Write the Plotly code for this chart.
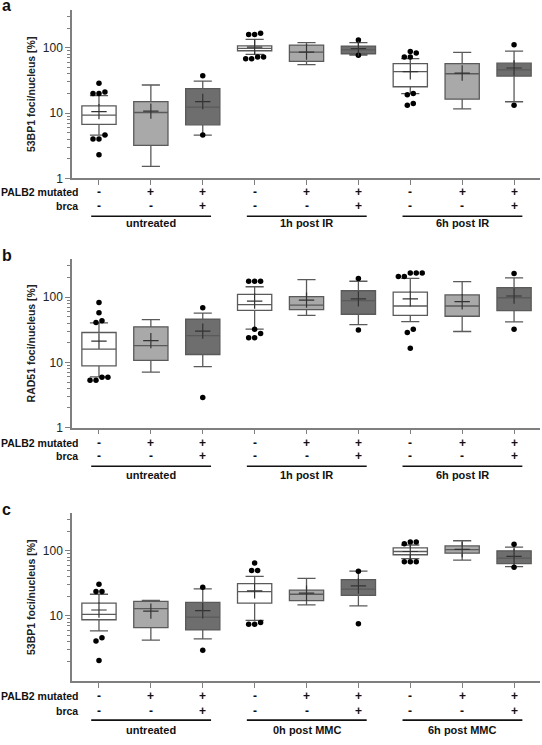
import math
import plotly.graph_objects as go

W, H = 542, 745

# ---------------- data ----------------
categories = [0, 1, 2, 3, 4, 5, 6, 7, 8]
palb2 = ["-", "+", "+", "-", "+", "+", "-", "+", "+"]
brca = ["-", "-", "+", "-", "-", "+", "-", "-", "+"]
groups_ir = ["untreated", "1h post IR", "6h post IR"]
groups_mmc = ["untreated", "0h post MMC", "6h post MMC"]

# Panel a: 53BP1 foci, IR
a_q1 = [6.7, 3.2, 6.6, 90, 62, 81, 25.3, 16.3, 36.8]
a_med = [9.3, 10.2, 12.3, 98, 86, 93, 43, 40, 45.9]
a_q3 = [12.9, 15.0, 23.6, 107, 110, 106, 57, 57, 58]
a_lo = [4.6, 1.52, 4.6, 79, 55, 77, 19.9, 11.6, 14.9]
a_hi = [18.5, 26.9, 30.9, 134, 120, 120, 68, 85, 89]
a_mean = [10.5, 10.7, 15.0, 102, 86, 97, 43, 41, 49]
a_out = [[28.5, 21, 20, 20, 4.6, 4.0, 4.0, 2.3], [], [37.2, 4.6],
         [167, 159, 159, 72, 68, 68, 72], [], [131, 77],
         [88, 83, 72, 72, 20, 19, 13.2, 14], [], [111, 13.2]]

# Panel b: RAD51 foci, IR
b_q1 = [8.85, 10.7, 13.2, 62.7, 64.2, 54.6, 52.6, 50.9, 62]
b_med = [16.0, 18.0, 25.6, 76.5, 75.6, 88, 73, 73, 97.7]
b_q3 = [28.7, 35, 45.8, 110, 102, 125, 119, 108, 140]
b_lo = [6.0, 7.1, 8.6, 32.3, 52.6, 38, 42.2, 29.7, 41.7]
b_hi = [40.3, 45.3, 57, 144, 185, 175, 194, 173, 197]
b_mean = [21.2, 21.5, 30.1, 87, 90, 94, 94, 85, 104]
b_out = [[83, 57.8, 43.6, 40.7, 5.9, 5.3, 5.3, 5.9], [], [68.9, 2.9],
         [175, 175, 175, 32.3, 27.7, 23.8, 23.8], [], [192, 31.2],
         [234, 234, 234, 206, 206, 32.3, 28.7, 16.4], [], [229, 32.3]]

# Panel c: 53BP1 foci, MMC
c_q1 = [8.7, 6.6, 6.07, 15.7, 17.1, 20.6, 87, 92, 63.5]
c_med = [10.5, 12.9, 9.55, 23.6, 21.5, 25.7, 97.7, 104, 77.4]
c_q3 = [15.7, 16.7, 16.1, 31.3, 24.8, 36, 111, 119, 100]
c_lo = [5.86, 4.23, 4.43, 8.5, 14.7, 14.2, 75.7, 72, 57.2]
c_hi = [21.5, 17.3, 26, 40.4, 37.7, 48.6, 123, 143, 114]
c_mean = [12.3, 11.8, 12.0, 24.2, 22.3, 28.8, 97.7, 105, 82]
c_out = [[30.5, 23.6, 23.6, 4.6, 4.1, 2.06], [], [27.5, 2.95],
         [65, 49.8, 49.8, 7.9, 7.4, 7.4], [], [48.6, 7.57],
         [137, 128, 137, 68, 68, 68], [], [126, 55.9]]

y_titles = ["53BP1 foci/nucleus [%]", "RAD51 foci/nucleus [%]", "53BP1 foci/nucleus [%]"]
panel_letters = ["a", "b", "c"]

# ---------------- styling ----------------
fills = ["#ffffff", "#a9a9a9", "#6e6e6e"]
box_line = "#5a5a5a"
axis_col = "#7f7f7f"
FONT = "Liberation Sans, Arial, sans-serif"

def px(x):
    return x / W

def py(y):
    return 1 - y / H

# panel geometry in pixels: (top, bottom)
panels = [(10, 180), (261.7, 431.7), (518, 687.3)]
row_offsets = [(13.5, 27.7, 38.3, 45.5), (15, 28.7, 39, 48.3), (15.7, 30.3, 39.7, 49.7)]
plot_left, plot_right = 72, 540

data_sets = [
    (a_q1, a_med, a_q3, a_lo, a_hi, a_mean, a_out, groups_ir),
    (b_q1, b_med, b_q3, b_lo, b_hi, b_mean, b_out, groups_ir),
    (c_q1, c_med, c_q3, c_lo, c_hi, c_mean, c_out, groups_mmc),
]

def dodge(vals, thr=0.07, step=0.115):
    """Spread close outliers horizontally so they sit side by side."""
    order = sorted(range(len(vals)), key=lambda i: vals[i])
    offs = [0.0] * len(vals)
    clusters, cur = [], []
    for i in order:
        if cur and abs(math.log10(vals[i]) - math.log10(vals[cur[0]])) > thr:
            clusters.append(cur)
            cur = []
        cur.append(i)
    if cur:
        clusters.append(cur)
    for cl in clusters:
        n = len(cl)
        for k, i in enumerate(cl):
            offs[i] = (k - (n - 1) / 2) * step
    return offs

fig = go.Figure()
annotations = []
shapes = []
layout_axes = {}

for p, (q1, med, q3, lo, hi, mean, outs, groups) in enumerate(data_sets):
    xa = "x" if p == 0 else f"x{p+1}"
    ya = "y" if p == 0 else f"y{p+1}"
    for i, c in enumerate(categories):
        fig.add_trace(go.Box(
            x=[c], q1=[q1[i]], median=[med[i]], q3=[q3[i]],
            lowerfence=[lo[i]], upperfence=[hi[i]],
            width=0.66, whiskerwidth=0.53,
            fillcolor=fills[i % 3], line=dict(color=box_line, width=1.3),
            boxpoints=False, showlegend=False, hoverinfo="skip",
            xaxis=xa, yaxis=ya,
        ))
        if outs[i]:
            offs = dodge(outs[i])
            fig.add_trace(go.Scatter(
                x=[c + o for o in offs], y=outs[i], mode="markers",
                marker=dict(color="black", size=5.5),
                showlegend=False, hoverinfo="skip", xaxis=xa, yaxis=ya,
            ))
    fig.add_trace(go.Scatter(
        x=categories, y=mean, mode="markers",
        marker=dict(symbol="cross-thin", size=11, line=dict(color="#333333", width=1.2)),
        showlegend=False, hoverinfo="skip", xaxis=xa, yaxis=ya,
    ))

    top, bot = panels[p]
    key = "" if p == 0 else str(p + 1)
    layout_axes["xaxis" + key] = dict(
        domain=[px(plot_left), px(plot_right)], anchor=ya, range=[-0.52, 8.5],
        showline=True, linecolor=axis_col, linewidth=1.5,
        ticks="outside", ticklen=5, tickcolor=axis_col, tickwidth=1.2,
        tickvals=categories, showticklabels=False,
        showgrid=False, zeroline=False, fixedrange=True,
    )
    tv = [1, 10, 100] if p < 2 else [10, 100]
    layout_axes["yaxis" + key] = dict(
        domain=[py(bot), py(top)], anchor=xa, type="log", range=[0, 2.58],
        showline=True, linecolor=axis_col, linewidth=1.5,
        ticks="outside", ticklen=5, tickcolor=axis_col, tickwidth=1.2,
        tickvals=tv, ticktext=[str(v) for v in tv],
        tickfont=dict(family=FONT, size=12, color="#222222"),
        minor=dict(ticks="outside", ticklen=3, tickcolor=axis_col, tickwidth=1,
                   tickvals=[2, 3, 4, 5, 6, 7, 8, 9, 20, 30, 40, 50, 60, 70, 80, 90, 200, 300]),
        showgrid=False, zeroline=False, fixedrange=True,
    )

    # y title
    annotations.append(dict(
        x=px(31), y=py((top + bot) / 2), xref="paper", yref="paper",
        text=y_titles[p], textangle=-90, showarrow=False,
        font=dict(family=FONT, size=10.5, color="#222222", weight="bold"),
        xanchor="center", yanchor="middle",
    ))
    # panel letter
    annotations.append(dict(
        x=px(0), y=py(top - 4), xref="paper", yref="paper",
        text=panel_letters[p], showarrow=False,
        font=dict(family=FONT, size=16, color="#111111", weight="bold"),
        xanchor="left", yanchor="middle",
    ))
    r1, r2, rl, rg = row_offsets[p]
    # row labels
    for txt, off in (("PALB2 mutated", r1), ("brca", r2)):
        annotations.append(dict(
            x=px(80), y=py(bot + off), xref="paper", yref="paper",
            text=txt, showarrow=False,
            font=dict(family=FONT, size=10.5, color="#111111", weight="bold"),
            xanchor="right", yanchor="middle",
        ))
    # +/- symbols
    for i, c in enumerate(categories):
        for sym, off in ((palb2[i], r1), (brca[i], r2)):
            annotations.append(dict(
                x=c, y=py(bot + off), xref=xa, yref="paper",
                text=sym, showarrow=False,
                font=dict(family=FONT, size=12, color="#111111", weight="bold"),
                xanchor="center", yanchor="middle",
            ))
    # group underline + labels
    for g, name in enumerate(groups):
        mid = categories[g * 3 + 1]
        shapes.append(dict(
            type="line", xref=xa, yref="paper",
            x0=mid - 1.15, x1=mid + 1.16, y0=py(bot + rl), y1=py(bot + rl),
            line=dict(color="#111111", width=1.6),
        ))
        annotations.append(dict(
            x=mid, y=py(bot + rg), xref=xa, yref="paper",
            text=name, showarrow=False,
            font=dict(family=FONT, size=11, color="#111111", weight="bold"),
            xanchor="center", yanchor="middle",
        ))

fig.update_layout(
    width=W, height=H,
    margin=dict(l=0, r=0, t=0, b=0),
    plot_bgcolor="white", paper_bgcolor="white",
    annotations=annotations, shapes=shapes,
    font=dict(family=FONT),
    showlegend=False,
    **layout_axes,
)

fig.write_html("out.html", config={"displayModeBar": False},
               post_script="document.body.style.margin='0px';")
